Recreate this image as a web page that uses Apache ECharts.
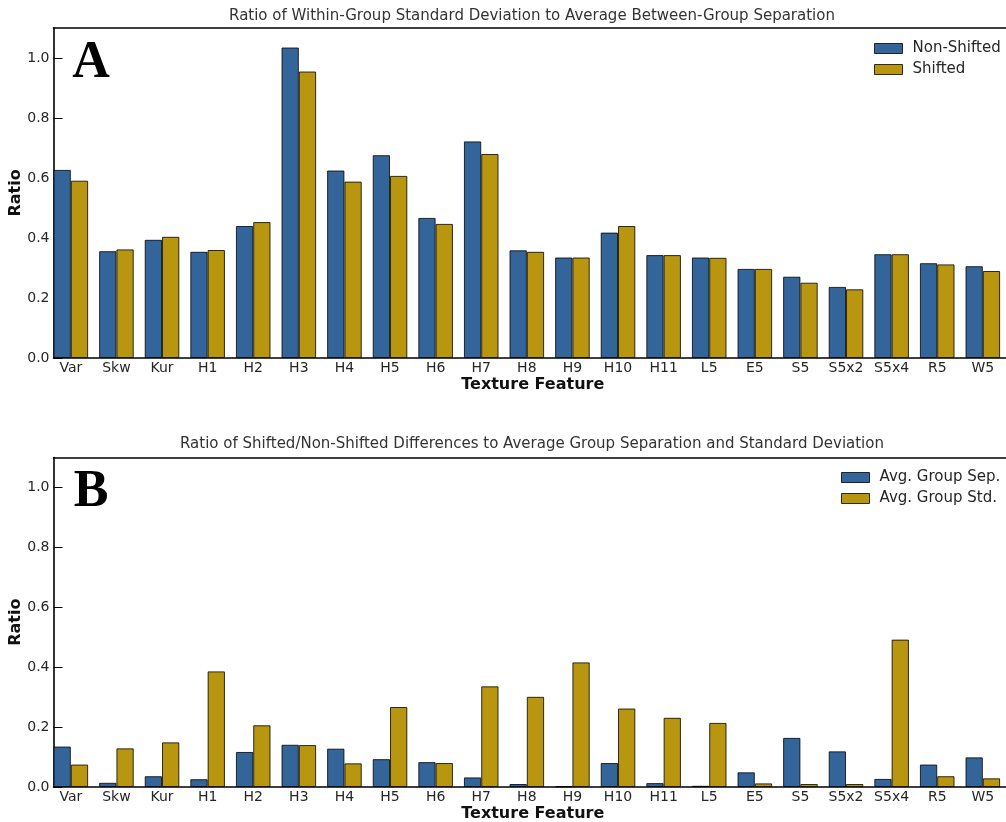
<!DOCTYPE html>
<html>
<head>
<meta charset="utf-8">
<script src="https://cdn.jsdelivr.net/npm/echarts@6/dist/echarts.min.js"></script>
<style>
  html, body { margin: 0; padding: 0; background: #fff; }
  #chart { width: 1006px; height: 822px; }
</style>
</head>
<body>
<div id="chart"></div>
<script>
// texture features on the x axis
const categories = ['Var', 'Skw', 'Kur', 'H1', 'H2', 'H3', 'H4', 'H5', 'H6', 'H7', 'H8',
  'H9', 'H10', 'H11', 'L5', 'E5', 'S5', 'S5x2', 'S5x4', 'R5', 'W5']
// panel A
const nonShifted = [0.627, 0.356, 0.394, 0.354, 0.440, 1.035, 0.625, 0.676, 0.467, 0.722, 0.359,
  0.335, 0.418, 0.343, 0.335, 0.297, 0.271, 0.237, 0.346, 0.316, 0.306]
const shifted = [0.591, 0.362, 0.404, 0.360, 0.453, 0.955, 0.588, 0.607, 0.447, 0.680, 0.354,
  0.335, 0.440, 0.343, 0.334, 0.297, 0.251, 0.229, 0.346, 0.312, 0.290]
// panel B
const groupSep = [0.135, 0.014, 0.036, 0.026, 0.117, 0.141, 0.128, 0.093, 0.083, 0.032, 0.010,
  0.002, 0.080, 0.013, 0.004, 0.049, 0.164, 0.119, 0.027, 0.075, 0.099]
const groupStd = [0.075, 0.129, 0.149, 0.386, 0.206, 0.140, 0.079, 0.267, 0.080, 0.336, 0.301,
  0.416, 0.262, 0.231, 0.214, 0.012, 0.010, 0.010, 0.492, 0.036, 0.029]
const yTicks = [0, 0.2, 0.4, 0.6, 0.8, 1.0]

const titleA = 'Ratio of Within-Group Standard Deviation to Average Between-Group Separation'
const titleB = 'Ratio of Shifted/Non-Shifted Differences to Average Group Separation and Standard Deviation'

const BLUE = '#34659a'
const GOLD = '#b9960f'
const EDGE = 'rgba(0,0,0,0.8)'
const TXT = '#262626'
const FONT = '"DejaVu Sans", sans-serif'
const xMin = -0.38
const xMax = 20.64

let myChart = echarts.init(document.getElementById('chart'), null, { renderer: 'canvas' })

function xAxes(gridIndex) {
  return [
    {
      gridIndex: gridIndex,
      type: 'value',
      min: xMin,
      max: xMax,
      name: 'Texture Feature',
      nameLocation: 'middle',
      nameGap: 19,
      nameMoveOverlap: false,
      nameTextStyle: { color: '#111', fontSize: 16, fontWeight: 'bold', fontFamily: FONT },
      axisLine: { show: true, onZero: false, lineStyle: { color: '#000', width: 1.6 } },
      axisTick: { show: false },
      splitLine: { show: false },
      axisLabel: {
        customValues: categories.map((c, i) => i),
        formatter: v => categories[Math.round(v)],
        color: TXT,
        fontSize: 14,
        fontFamily: FONT,
        margin: 3
      }
    },
    {
      // top border of the panel
      gridIndex: gridIndex,
      type: 'value',
      position: 'top',
      min: xMin,
      max: xMax,
      axisLine: { show: true, onZero: false, lineStyle: { color: '#000', width: 1.6 } },
      axisTick: { show: false },
      axisLabel: { show: false },
      splitLine: { show: false }
    }
  ]
}

function yAxis(gridIndex) {
  return {
    gridIndex: gridIndex,
    type: 'value',
    min: 0,
    max: 1.1,
    name: 'Ratio',
    nameLocation: 'middle',
    nameGap: 30,
    nameMoveOverlap: false,
    nameTextStyle: { color: '#111', fontSize: 16, fontWeight: 'bold', fontFamily: FONT },
    axisLine: { show: true, onZero: false, lineStyle: { color: '#000', width: 1.6 } },
    axisTick: {
      show: true,
      inside: true,
      length: 9,
      customValues: yTicks,
      lineStyle: { color: '#000', width: 1 }
    },
    axisLabel: {
      customValues: yTicks,
      formatter: v => v.toFixed(1),
      color: TXT,
      fontSize: 14,
      fontFamily: FONT,
      margin: 4
    },
    splitLine: { show: false }
  }
}

function barSeries(name, values, color, xIdx, yIdx) {
  return {
    name: name,
    type: 'bar',
    xAxisIndex: xIdx,
    yAxisIndex: yIdx,
    barWidth: 17.3,
    barGap: '0%',
    data: values.map((v, i) => [i, v]),
    itemStyle: { color: color, borderColor: EDGE, borderWidth: 1 },
    emphasis: { disabled: true }
  }
}

function legend(names, left, top) {
  return {
    data: names,
    orient: 'vertical',
    left: left,
    top: top,
    padding: 0,
    itemWidth: 28,
    itemHeight: 10,
    itemGap: 6,
    icon: 'rect',
    itemStyle: { borderColor: EDGE, borderWidth: 1 },
    textStyle: { color: TXT, fontSize: 15, fontFamily: FONT, padding: [0, 0, 0, 5] }
  }
}

function label(text, x, y, font, color) {
  return {
    type: 'text',
    x: x,
    y: y,
    style: { text: text, font: font, fill: color, align: 'center', verticalAlign: 'middle' }
  }
}

let option = {
  backgroundColor: '#fff',
  animation: false,
  grid: [
    { left: 53.5, top: 28, width: 958.5, height: 330, outerBoundsMode: 'none', containLabel: false },
    { left: 53.5, top: 457.5, width: 958.5, height: 329.5, outerBoundsMode: 'none', containLabel: false }
  ],
  xAxis: [...xAxes(0), ...xAxes(1)],
  yAxis: [yAxis(0), yAxis(1)],
  legend: [
    legend(['Non-Shifted', 'Shifted'], 874, 41),
    legend(['Avg. Group Sep.', 'Avg. Group Std.'], 841, 470)
  ],
  graphic: [
    label(titleA, 532, 16, '15px ' + FONT, '#333'),
    label(titleB, 532, 444, '15px ' + FONT, '#333'),
    label('A', 91, 64, 'bold 52px "Liberation Serif", serif', '#000'),
    label('B', 91, 493, 'bold 52px "Liberation Serif", serif', '#000')
  ],
  series: [
    barSeries('Non-Shifted', nonShifted, BLUE, 0, 0),
    barSeries('Shifted', shifted, GOLD, 0, 0),
    barSeries('Avg. Group Sep.', groupSep, BLUE, 2, 1),
    barSeries('Avg. Group Std.', groupStd, GOLD, 2, 1)
  ]
}

myChart.setOption(option)
</script>
</body>
</html>
